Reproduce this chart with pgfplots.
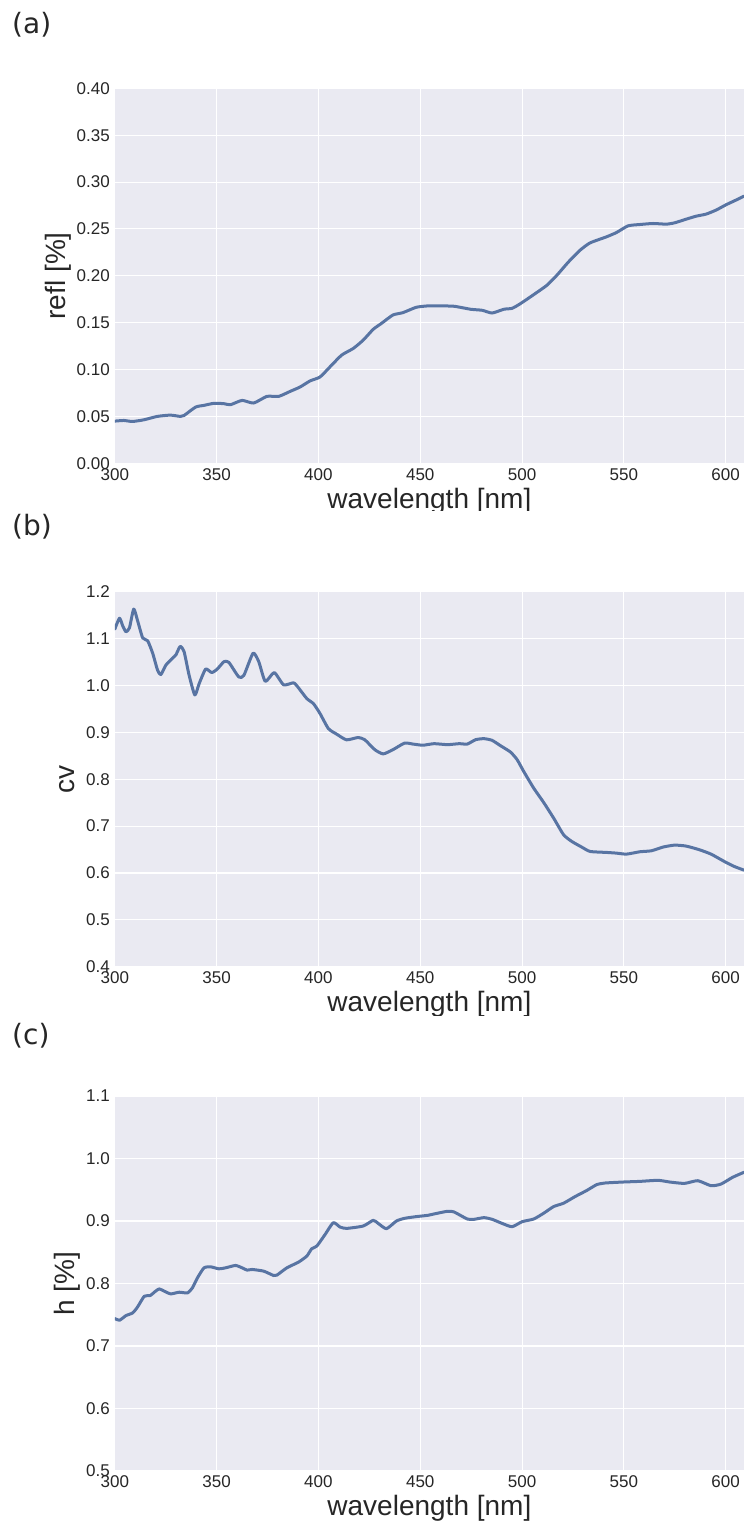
\documentclass[border=0pt]{standalone}
\usepackage{fontspec}
\setmainfont{Liberation Sans}
\newfontfamily\dejavu{DejaVu Sans}
\usepackage{pgfplots}
\pgfplotsset{compat=1.18}

\definecolor{bgc}{HTML}{EAEAF2}
\definecolor{linec}{HTML}{5874A3}
\definecolor{txtc}{HTML}{262626}
\newcommand{\ticksize}{\fontsize{17}{18}\selectfont}
\newcommand{\labsize}{\fontsize{28}{30}\selectfont}

% seaborn darkgrid look, one panel = one axis
\pgfplotsset{
  panel/.style={
    scale only axis, width=629.2pt, height=375pt,
    anchor=north west,
    xmin=300, xmax=609,
    xtick={300,350,400,450,500,550,600},
    axis background/.style={fill=bgc},
    axis line style={draw=none},
    grid=major, major grid style={white, line width=1.1pt},
    major tick length=0pt,
    tick label style={font=\ticksize, text=txtc, inner sep=0pt},
    xticklabel style={yshift=-4.7pt},
    yticklabel style={xshift=-4.8pt},
    label style={font=\labsize, text=txtc},
    xlabel={wavelength [nm]},
    xlabel style={inner sep=0pt, yshift=-7.3pt},
    ylabel style={inner xsep=0pt, inner ysep=5pt, text depth=6pt},
    /pgf/number format/assume math mode=true,
  },
  curve/.style={color=linec, no marks, line width=3pt,
    line join=round, line cap=round, smooth, tension=0.35},
}
\tikzset{panlabel/.style={anchor=base west, font=\dejavu\labsize, text=txtc, inner sep=0pt}}

\begin{document}
\begin{tikzpicture}
\path[use as bounding box] (0,0) rectangle (744pt,-1523pt);

% (a) reflectance
\begin{scope}
\clip (0,0) rectangle (744pt,-510pt);
\node[panlabel] at (12pt,-33pt) {(a)};
\begin{axis}[panel, at={(114.8pt,-88.3pt)},
  ymin=0, ymax=0.4,
  ytick={0,0.05,0.1,0.15,0.2,0.25,0.3,0.35,0.4},
  yticklabel style={/pgf/number format/.cd, fixed, fixed zerofill, precision=2},
  ylabel={refl [\%]}]
\addplot[curve] coordinates {
(300,0.0450) (304.5,0.0457) (308.6,0.0446) (314.3,0.0464) (320.8,0.0500)
(327.3,0.0514) (332.2,0.0500) (334,0.0510) (339.7,0.0600) (343.8,0.0618)
(348.7,0.0640) (353.6,0.0636) (356.8,0.0625) (362.5,0.0671) (368.2,0.0643)
(374.7,0.0714) (380.5,0.0714) (386.2,0.0768) (391,0.0814) (395.9,0.0879)
(400.8,0.0921) (405.7,0.1029) (411.4,0.1154) (417.1,0.1225) (422,0.1314)
(426.9,0.1429) (431,0.1493) (436.6,0.1582) (441.5,0.1607) (448,0.1664)
(453.7,0.1679) (458,0.1680) (466.6,0.1675) (474.8,0.1643) (480.5,0.1632)
(485.3,0.1603) (491,0.1643) (495.1,0.1653) (499.2,0.1703) (505.7,0.1799)
(512.2,0.1899) (517.1,0.2006) (522.8,0.2148) (528.5,0.2273) (533.4,0.2351)
(541.5,0.2416) (546.4,0.2462) (552.1,0.2533) (557.8,0.2547) (564.3,0.2558)
(570.8,0.2551) (574.9,0.2565) (580.6,0.2604) (585.5,0.2636) (590.4,0.2658)
(595.3,0.2701) (600.2,0.2758) (605,0.2807) (609,0.2850)
};
\end{axis}
\end{scope}

% (b) cv
\begin{scope}
\clip (0,-510pt) rectangle (744pt,-1015pt);
\node[panlabel] at (12pt,-535pt) {(b)};
\begin{axis}[panel, at={(114.8pt,-591.7pt)},
  ymin=0.4, ymax=1.2,
  ytick={0.4,0.5,0.6,0.7,0.8,0.9,1.0,1.1,1.2},
  yticklabel style={/pgf/number format/.cd, fixed, fixed zerofill, precision=1},
  ylabel={cv}]
\addplot[curve] coordinates {
(300,1.120) (302.3,1.1435) (303.9,1.127) (305.5,1.1145) (307.2,1.123)
(309.3,1.163) (311.2,1.138) (313.7,1.1014) (316.1,1.0957) (318.6,1.0688)
(321,1.0326) (322.6,1.0232) (325.1,1.0435) (328.3,1.058) (330,1.0652)
(332.1,1.0833) (334,1.0725) (336.5,1.0217) (339.3,0.9797) (341.4,1.0036)
(344.6,1.0348) (347.6,1.0275) (350.3,1.0348) (353.6,1.0507) (356,1.0493)
(360.9,1.0181) (363.4,1.0217) (367.9,1.0688) (370.7,1.0507) (373.9,1.0087)
(378.3,1.0275) (382.9,1.0014) (387.8,1.0056) (390.2,0.995) (394.3,0.972)
(397.6,0.961) (400.8,0.940) (404.9,0.908) (409,0.896) (413.8,0.884)
(419.5,0.889) (422.8,0.884) (427.7,0.863) (431.8,0.854) (436.6,0.863)
(442.3,0.877) (446.4,0.875) (451.3,0.8725) (456.8,0.8758) (463.4,0.8737)
(469.1,0.8758) (473.1,0.875) (477.2,0.8843) (481.3,0.8865) (485.3,0.8829)
(489.4,0.8715) (494.3,0.858) (497.6,0.8416) (500.8,0.8167) (505.7,0.7811)
(510.6,0.7505) (515.5,0.7171) (520.4,0.6815) (524.4,0.6673) (529.3,0.6552)
(533.4,0.6459) (541.5,0.6438) (546.4,0.6423) (551.3,0.6402) (557.8,0.6452)
(563.5,0.6473) (569.2,0.6552) (574.9,0.6594) (580.6,0.6573) (587.1,0.6495)
(592.8,0.6402) (599.3,0.6246) (604.2,0.6139) (609,0.6060)
};
\end{axis}
\end{scope}

% (c) h
\begin{scope}
\clip (0,-1015pt) rectangle (744pt,-1523pt);
\node[panlabel] at (12pt,-1044pt) {(c)};
\begin{axis}[panel, at={(114.8pt,-1096pt)},
  ymin=0.5, ymax=1.1,
  ytick={0.5,0.6,0.7,0.8,0.9,1.0,1.1},
  yticklabel style={/pgf/number format/.cd, fixed, fixed zerofill, precision=1},
  ylabel={h [\%]}]
\addplot[curve] coordinates {
(300,0.744) (302.3,0.7412) (305.5,0.7487) (308.8,0.753) (311.2,0.7626)
(314.5,0.7797) (317.4,0.7807) (319.4,0.7861) (321.8,0.7914) (324.3,0.7877)
(327.5,0.7834) (331.6,0.7861) (335.7,0.785) (338.1,0.793) (340.6,0.8091)
(343.8,0.8251) (347.1,0.8267) (351.1,0.8235) (354.4,0.8251) (359.3,0.8289)
(362.5,0.8251) (365,0.8214) (367.4,0.8225) (373.1,0.8198) (378,0.8128)
(379.6,0.8134) (384.5,0.8251) (390.2,0.8342) (394.3,0.8439) (396.7,0.8556)
(399.2,0.8599) (403.3,0.8786) (407.3,0.8973) (410.6,0.8904) (413.8,0.8882)
(422,0.892) (426.9,0.9011) (429.3,0.8963) (433.4,0.8877) (438.3,0.9)
(442.3,0.9043) (448,0.907) (453.7,0.9091) (456.8,0.9113) (463.4,0.9156)
(466.6,0.9145) (473.1,0.9032) (476.4,0.9027) (481.3,0.9054) (485.3,0.9027)
(490.2,0.8962) (495.1,0.8909) (500,0.8989) (505.7,0.9032) (510.6,0.9124)
(515.5,0.9231) (520.4,0.9285) (526.1,0.9392) (531.8,0.9489) (536.6,0.9581)
(540.7,0.9608) (549.7,0.9624) (557.8,0.9634) (566.8,0.9651) (572.5,0.9624)
(579.8,0.9602) (586.3,0.9645) (592.8,0.9565) (597.7,0.9591) (603.4,0.9699)
(609,0.978)
};
\end{axis}
\end{scope}
\end{tikzpicture}
\end{document}
